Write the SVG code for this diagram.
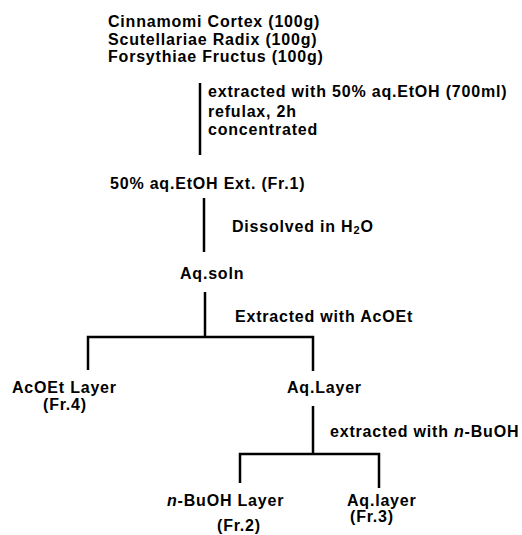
<svg xmlns="http://www.w3.org/2000/svg" width="522" height="535" viewBox="0 0 522 535">
<style>
text{font-family:"Liberation Sans",Arial,sans-serif;font-weight:bold;font-size:16px;letter-spacing:0.8px;fill:#000}
.ln{stroke:#000;stroke-width:2.5;fill:none}
</style>
<rect width="522" height="535" fill="#fff"/>
<g id="connectors">
<line class="ln" x1="200" y1="83" x2="200" y2="155"/>
<line class="ln" x1="204" y1="198" x2="204" y2="252"/>
<line class="ln" x1="205" y1="292" x2="205" y2="337"/>
<polyline class="ln" points="88,370 88,337 313,337 313,371"/>
<line class="ln" x1="313" y1="406" x2="313" y2="454"/>
<polyline class="ln" points="240,483 240,454 379,454 379,488"/>
</g>
<g id="herbs">
<text x="108" y="27">Cinnamomi Cortex (100g)</text>
<text x="108" y="45">Scutellariae Radix (100g)</text>
<text x="108" y="62">Forsythiae Fructus (100g)</text>
</g>
<g id="step1-label">
<text x="208" y="97">extracted with 50% aq.EtOH (700ml)</text>
<text x="208" y="117">refulax, 2h</text>
<text x="208" y="135">concentrated</text>
</g>
<g id="fr1"><text x="110" y="189">50% aq.EtOH Ext. (Fr.1)</text></g>
<g id="step2-label"><text x="232" y="232">Dissolved in H<tspan font-size="11" dy="2">2</tspan><tspan dy="-2">O</tspan></text></g>
<g id="aqsoln"><text x="180" y="279">Aq.soln</text></g>
<g id="step3-label"><text x="235" y="322">Extracted with AcOEt</text></g>
<g id="fr4">
<text x="12" y="393">AcOEt Layer</text>
<text x="43" y="410">(Fr.4)</text>
</g>
<g id="aqlayer"><text x="287" y="393">Aq.Layer</text></g>
<g id="step4-label"><text x="330" y="437">extracted with <tspan font-style="italic">n</tspan>-BuOH</text></g>
<g id="fr2">
<text x="167" y="506"><tspan font-style="italic">n</tspan>-BuOH Layer</text>
<text x="217" y="531">(Fr.2)</text>
</g>
<g id="fr3">
<text x="347" y="506">Aq.layer</text>
<text x="350" y="522">(Fr.3)</text>
</g>
</svg>
